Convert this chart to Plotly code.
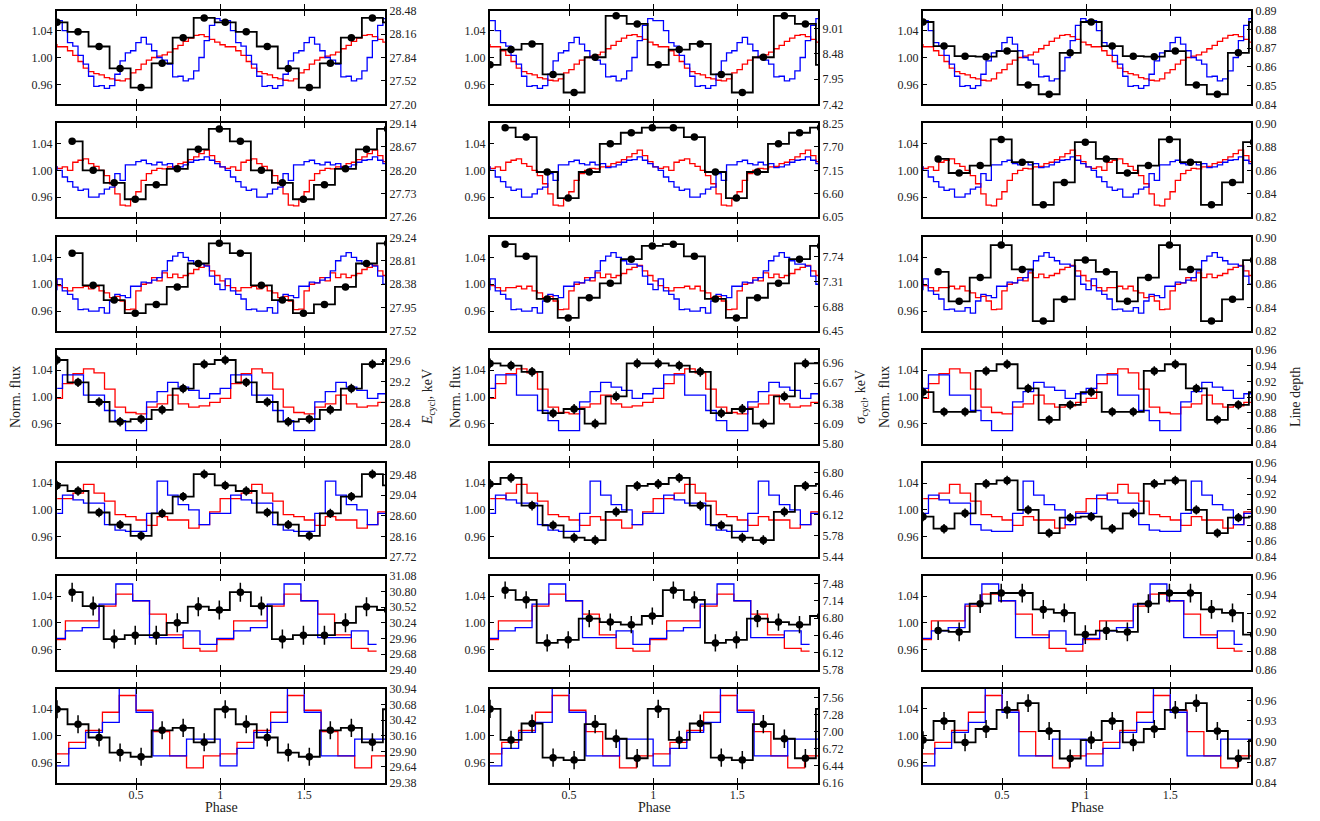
import plotly.graph_objects as go

# ------------------------------------------------------------------ data
PHASE_RANGE = [0.03, 1.98]
PHASE_TICKS = [0.5, 1.0, 1.5]
PHASE_TICK_TEXT = ["0.5", "1", "1.5"]
FLUX_RANGE = [0.93, 1.07]
FLUX_TICKS = [0.96, 1.00, 1.04]
FLUX_TICK_TEXT = ["0.96", "1.00", "1.04"]

# red / blue normalised pulse profiles (one period, per row; same in every column)
RED = [
    [1.016, 1.016, 1.010, 1.003, 0.994, 0.984, 0.979, 0.976, 0.974, 0.970, 0.968, 0.966, 0.965, 0.968, 0.977, 0.982,
     0.990, 0.996, 1.000, 1.002, 1.004, 1.008, 1.013, 1.018, 1.024, 1.029, 1.033, 1.034, 1.031, 1.027, 1.023, 1.019],
    [1.003, 1.005, 1.000, 1.012, 1.015, 1.017, 1.010, 1.006, 1.000, 0.992, 0.980, 0.965, 0.948, 0.947, 0.957, 0.968,
     0.985, 0.995, 1.000, 1.003, 1.002, 1.005, 1.006, 1.010, 1.012, 1.016, 1.020, 1.025, 1.030, 1.022, 1.013, 1.005],
    [0.998, 0.995, 0.990, 0.995, 0.995, 0.997, 0.993, 0.997, 0.990, 0.987, 0.980, 0.982, 0.975, 0.962, 0.963, 0.990,
     1.000, 1.002, 1.010, 1.005, 1.017, 1.010, 1.015, 1.010, 1.013, 1.016, 1.022, 1.025, 1.028, 1.020, 1.013, 1.005],
    [0.998, 1.020, 1.035, 1.042, 1.036, 1.012, 0.985, 0.977, 0.975, 0.985, 0.990, 1.003, 0.990, 0.985, 0.987, 0.992],
    [1.017, 1.017, 1.025, 1.038, 1.025, 1.013, 0.993, 0.990, 0.985, 0.977, 0.990, 0.985, 0.985, 0.973, 0.978, 0.997],
    [0.975, 1.003, 1.003, 1.025, 1.043, 1.033, 1.013, 0.982, 0.962, 0.958],
    [0.973, 0.990, 1.008, 1.035, 1.060, 1.038, 1.006, 0.970, 0.952, 0.970],
]
BLUE = [
    [1.055, 1.040, 1.022, 1.017, 1.003, 0.990, 0.972, 0.957, 0.958, 0.954, 0.958, 0.975, 0.995, 1.007, 1.010, 1.022,
     1.030, 1.020, 1.010, 1.000, 0.996, 0.990, 0.971, 0.972, 0.965, 0.968, 0.980, 1.000, 1.025, 1.048, 1.058, 1.055],
    [1.000, 0.990, 0.983, 0.975, 0.970, 0.972, 0.960, 0.960, 0.965, 0.972, 0.975, 0.995, 0.985, 1.008, 1.008, 1.013,
     1.015, 1.010, 1.008, 1.012, 1.008, 1.010, 1.004, 1.005, 1.008, 1.012, 1.015, 1.016, 1.020, 1.015, 1.010, 1.005],
    [1.008, 0.990, 0.985, 0.978, 0.962, 0.963, 0.960, 0.960, 0.965, 0.957, 0.975, 0.985, 0.983, 0.980, 0.997, 0.997,
     1.003, 1.002, 1.006, 1.010, 1.020, 1.035, 1.042, 1.047, 1.040, 1.035, 1.030, 1.030, 1.027, 1.012, 1.000, 0.992],
    [1.013, 1.033, 1.033, 1.003, 1.003, 0.980, 0.965, 0.950, 0.950, 0.993, 1.008, 1.022, 1.015, 1.010, 0.998, 1.005],
    [0.995, 1.022, 1.015, 1.010, 1.010, 0.978, 0.970, 0.968, 0.968, 0.995, 1.043, 1.022, 1.008, 1.000, 0.978, 0.995],
    [0.977, 0.988, 0.993, 1.028, 1.058, 1.033, 0.978, 0.978, 0.988, 0.968],
    [0.955, 0.981, 1.005, 1.020, 1.075, 1.035, 0.970, 0.970, 0.995, 0.995],
]
RB_BIN0_CENTER = [0.0456, 0.0456, 0.0456, 0.03125, 0.03125, 0.03, 0.05]
RB_SPAN = [(0.014, 2.06), (0.014, 2.06), (0.014, 2.06), (-0.03, 2.06), (-0.03, 2.06), (0.03, 1.93), (-0.05, 2.06)]

# black points: cyclotron line parameters (8 phase bins per period)
BLACK_BIN0_PHASE = [0.03, 0.12, 0.12, 0.03, 0.03, 0.12, 0.03]
E_CYCL = [
    [28.32, 28.19, 27.99, 27.69, 27.43, 27.76, 28.11, 28.38],
    [28.78, 28.20, 27.95, 27.62, 27.91, 28.23, 28.62, 29.03],
    [28.95, 28.36, 28.09, 27.85, 28.01, 28.33, 28.76, 29.13],
    [29.62, 29.19, 28.81, 28.43, 28.48, 28.66, 29.07, 29.54],
    [29.25, 29.13, 28.67, 28.41, 28.17, 28.65, 29.01, 29.49],
    [30.79, 30.54, 29.95, 30.02, 30.02, 30.24, 30.53, 30.47],
    [30.60, 30.35, 30.13, 29.88, 29.81, 30.25, 30.29, 30.05],
]
SIGMA_CYCL = [
    [8.25, 8.57, 8.69, 8.05, 7.67, 8.41, 9.28, 9.11],
    [8.15, 7.93, 7.11, 6.50, 7.11, 7.77, 8.03, 8.15],
    [7.96, 7.75, 7.01, 6.68, 7.03, 7.28, 7.70, 7.93],
    [6.95, 6.92, 6.83, 6.24, 6.30, 6.09, 6.48, 6.95],
    [6.62, 6.72, 6.27, 5.95, 5.75, 5.71, 6.17, 6.59],
    [7.35, 7.16, 6.31, 6.37, 6.79, 6.72, 6.67, 6.84],
    [7.37, 6.86, 7.13, 6.57, 6.53, 7.12, 6.88, 6.56],
]
LINE_DEPTH = [
    [0.8839, 0.8711, 0.8657, 0.8654, 0.8684, 0.8504, 0.8454, 0.8675],
    [0.8697, 0.8577, 0.8640, 0.8863, 0.8669, 0.8306, 0.8497, 0.8840],
    [0.8706, 0.8454, 0.8657, 0.8934, 0.8726, 0.8286, 0.8471, 0.8806],
    [0.9064, 0.8811, 0.8811, 0.9334, 0.9420, 0.9111, 0.8709, 0.8901],
    [0.8914, 0.8760, 0.8957, 0.9334, 0.9377, 0.9000, 0.8704, 0.8901],
    [0.9018, 0.9004, 0.9304, 0.9418, 0.9418, 0.9243, 0.9207, 0.8975],
    [0.9021, 0.9300, 0.8987, 0.9183, 0.9462, 0.9560, 0.9154, 0.8752],
]
BLACK = [E_CYCL, SIGMA_CYCL, LINE_DEPTH]
BLACK_ERR = [
    [0.03, 0.04, 0.04, 0.09, 0.10, 0.17, 0.15],
    [0.04, 0.05, 0.035, 0.07, 0.08, 0.17, 0.15],
    [0.0015, 0.002, 0.002, 0.006, 0.006, 0.010, 0.013],
]

RIGHT_RANGE = [
    [[27.20, 28.48], [27.26, 29.14], [27.52, 29.24], [28.0, 29.81], [27.72, 29.73], [29.40, 31.08], [29.38, 30.94]],
    [[7.42, 9.39], [6.05, 8.25], [6.45, 8.08], [5.80, 7.14], [5.44, 6.96], [5.78, 7.63], [6.16, 7.70]],
    [[0.84, 0.89], [0.82, 0.90], [0.82, 0.90], [0.84, 0.96], [0.84, 0.96], [0.86, 0.96], [0.84, 0.977]],
]
RIGHT_TICKS = [
    [["27.20", "27.52", "27.84", "28.16", "28.48"],
     ["27.26", "27.73", "28.20", "28.67", "29.14"],
     ["27.52", "27.95", "28.38", "28.81", "29.24"],
     ["28.0", "28.4", "28.8", "29.2", "29.6"],
     ["27.72", "28.16", "28.60", "29.04", "29.48"],
     ["29.40", "29.68", "29.96", "30.24", "30.52", "30.80", "31.08"],
     ["29.38", "29.64", "29.90", "30.16", "30.42", "30.68", "30.94"]],
    [["7.42", "7.95", "8.48", "9.01"],
     ["6.05", "6.60", "7.15", "7.70", "8.25"],
     ["6.45", "6.88", "7.31", "7.74"],
     ["5.80", "6.09", "6.38", "6.67", "6.96"],
     ["5.44", "5.78", "6.12", "6.46", "6.80"],
     ["5.78", "6.12", "6.46", "6.80", "7.14", "7.48"],
     ["6.16", "6.44", "6.72", "7.00", "7.28", "7.56"]],
    [["0.84", "0.85", "0.86", "0.87", "0.88", "0.89"],
     ["0.82", "0.84", "0.86", "0.88", "0.90"],
     ["0.82", "0.84", "0.86", "0.88", "0.90"],
     ["0.84", "0.86", "0.88", "0.90", "0.92", "0.94", "0.96"],
     ["0.84", "0.86", "0.88", "0.90", "0.92", "0.94", "0.96"],
     ["0.86", "0.88", "0.90", "0.92", "0.94", "0.96"],
     ["0.84", "0.87", "0.90", "0.93", "0.96"]],
]
LEFT_TITLE = "Norm. flux"
RIGHT_TITLES = ["<i>E</i><sub>cycl</sub>, keV", "σ<sub>cycl</sub>, keV", "Line depth"]
X_TITLE = "Phase"

# ------------------------------------------------------------------ layout constants
W, H = 1320, 821
COL_X = [(57, 385), (490, 818), (923, 1251)]
ROW_TOP = [3.6, 118.4, 234.3, 349.1, 463.9, 578.8, 693.6]
PANEL_H = 95.5
PHASE_TITLE_Y = 814
FONT = "Liberation Serif"
TICKFONT = dict(family=FONT, size=12, color="#222")


def periodic(profile, c0, start, end):
    n = len(profile)
    w = 1.0 / n
    kmin = round((start - c0) / w)
    kmax = round((end - c0) / w)
    xs, ys = [], []
    for k in range(kmin, kmax + 1):
        x = c0 + k * w
        if x < start - 1e-9 or x > end + 1e-9:
            continue
        xs.append(x)
        ys.append(profile[k % n])
    return xs, ys


def black_series(profile, x0):
    n = len(profile)
    w = 1.0 / n
    xs, ys = [], []
    k = 0
    while x0 + k * w <= 2.06:
        xs.append(x0 + k * w)
        ys.append(profile[k % n])
        k += 1
    return xs, ys


fig = go.Figure()
layout = dict(
    width=W, height=H, autosize=False,
    margin=dict(l=0, r=0, t=0, b=0),
    paper_bgcolor="white", plot_bgcolor="white",
    showlegend=False,
    font=dict(family=FONT, color="#222"),
)

for r in range(7):
    rx, ry = periodic(RED[r], RB_BIN0_CENTER[r], *RB_SPAN[r])
    bx, by = periodic(BLUE[r], RB_BIN0_CENTER[r], *RB_SPAN[r])
    top = ROW_TOP[r]
    ydom = [1 - (top + PANEL_H) / H, 1 - top / H]
    for c in range(3):
        i = r * 3 + c
        xid = "x" if i == 0 else f"x{i + 1}"
        ylid_n = 2 * i + 1
        yrid_n = 2 * i + 2
        ylid = "y" if ylid_n == 1 else f"y{ylid_n}"
        yrid = f"y{yrid_n}"
        xkey = "xaxis" if i == 0 else f"xaxis{i + 1}"
        ylkey = "yaxis" if ylid_n == 1 else f"yaxis{ylid_n}"
        yrkey = f"yaxis{yrid_n}"

        fig.add_trace(go.Scatter(x=rx, y=ry, mode="lines", line=dict(color="#ff0000", width=1.3, shape="hvh"),
                                 xaxis=xid, yaxis=ylid, hoverinfo="skip"))
        fig.add_trace(go.Scatter(x=bx, y=by, mode="lines", line=dict(color="#0000ff", width=1.3, shape="hvh"),
                                 xaxis=xid, yaxis=ylid, hoverinfo="skip"))
        kx, ky = black_series(BLACK[c][r], BLACK_BIN0_PHASE[r])
        fig.add_trace(go.Scatter(x=kx, y=ky, mode="lines+markers",
                                 line=dict(color="black", width=1.8, shape="hvh"),
                                 marker=dict(color="black", size=7.5, symbol="circle"),
                                 error_y=dict(type="constant", value=BLACK_ERR[c][r], color="black",
                                              thickness=1.5, width=0),
                                 xaxis=xid, yaxis=yrid, hoverinfo="skip"))

        x0p, x1p = COL_X[c]
        layout[xkey] = dict(
            domain=[x0p / W, x1p / W], anchor=ylid, range=PHASE_RANGE,
            tickvals=PHASE_TICKS, ticktext=PHASE_TICK_TEXT, showticklabels=(r == 6),
            ticks="inside", ticklen=5, tickwidth=1.2, tickcolor="black",
            mirror="allticks", showline=True, linecolor="black", linewidth=2,
            showgrid=False, zeroline=False, tickfont=TICKFONT,
        )
        layout[ylkey] = dict(
            domain=ydom, anchor=xid, range=FLUX_RANGE,
            tickvals=FLUX_TICKS, ticktext=FLUX_TICK_TEXT,
            ticks="inside", ticklen=4, tickwidth=1, tickcolor="black",
            showline=True, linecolor="black", linewidth=2,
            showgrid=False, zeroline=False, tickfont=TICKFONT,
        )
        rr = RIGHT_RANGE[c][r]
        span = rr[1] - rr[0]
        labels = RIGHT_TICKS[c][r]
        layout[yrkey] = dict(
            overlaying=ylid, anchor=xid, side="right",
            range=[rr[0] - span * 1e-4, rr[1] + span * 1e-4],
            tickvals=[float(s) for s in labels], ticktext=labels,
            ticks="inside", ticklen=4, tickwidth=1, tickcolor="black",
            showline=True, linecolor="black", linewidth=2,
            showgrid=False, zeroline=False, tickfont=TICKFONT,
        )

annotations = []
mid_row = ROW_TOP[3] + PANEL_H / 2
left_title_x = [15, 455, 884]
right_title_x = [428, 861, 1295]
for c in range(3):
    annotations.append(dict(text=LEFT_TITLE, x=left_title_x[c] / W, y=1 - mid_row / H, xref="paper", yref="paper",
                            textangle=-90, showarrow=False, xanchor="center", yanchor="middle",
                            font=dict(family=FONT, size=14, color="#222")))
    annotations.append(dict(text=RIGHT_TITLES[c], x=right_title_x[c] / W, y=1 - mid_row / H, xref="paper",
                            yref="paper", textangle=-90, showarrow=False, xanchor="center", yanchor="middle",
                            font=dict(family=FONT, size=14, color="#222")))
    annotations.append(dict(text=X_TITLE, x=(COL_X[c][0] + COL_X[c][1]) / 2 / W, y=1 - PHASE_TITLE_Y / H,
                            xref="paper", yref="paper", showarrow=False, xanchor="center", yanchor="middle",
                            font=dict(family=FONT, size=14, color="#222")))
layout["annotations"] = annotations

fig.update_layout(**layout)
fig.write_html(
    "out.html",
    config={"displayModeBar": False},
    post_script="document.body.style.margin='0';document.body.style.overflow='hidden';"
                "document.documentElement.style.overflow='hidden';",
)
